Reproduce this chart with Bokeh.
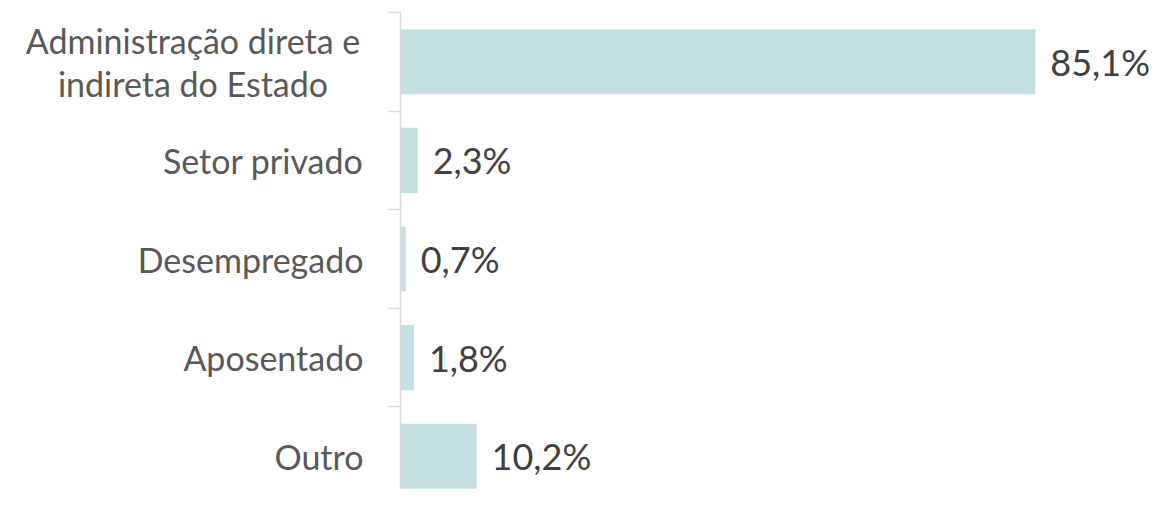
from bokeh.plotting import figure
from bokeh.models import ColumnDataSource, Range1d, FixedTicker, LinearAxis
from bokeh.layouts import row
from bokeh.core.properties import value
from bokeh.embed import file_html
from bokeh.resources import INLINE

categories = ["Administração direta e\nindireta do Estado", "Setor privado",
              "Desempregado", "Aposentado", "Outro"]
values = [85.1, 2.3, 0.7, 1.8, 10.2]

n = len(categories)
ypos = [n - i for i in range(n)]
labels = [f"{v:.1f}".replace(".", ",") + "%" for v in values]

src = ColumnDataSource(dict(y=ypos, v=values, lab=labels))

single = [i for i, c in enumerate(categories) if "\n" not in c]
multi = [i for i, c in enumerate(categories) if "\n" in c]
src_single = ColumnDataSource(dict(y=[ypos[i] for i in single], x=[1] * len(single),
                                   cat=[categories[i] for i in single]))
src_multi = ColumnDataSource(dict(y=[ypos[i] for i in multi], x=[1] * len(multi),
                                  cat=[categories[i] for i in multi]))

H, TOP = 489, 12
LABEL_W = 388          # width of the category-label panel
MAIN_W = 764           # bar panel incl. 12px border for the axis ticks
AXIS_BORDER = 12
px_per_unit_x = 7.46
px_per_band = 98.6

yr = Range1d(n + 0.5 - (H - TOP) / px_per_band, n + 0.5)

# ---- category label panel
lp = figure(width=LABEL_W, height=H, output_backend="svg", toolbar_location=None,
            x_range=Range1d(0, 1), y_range=yr,
            x_axis_location=None, y_axis_location=None,
            min_border_left=0, min_border_right=0, min_border_top=TOP, min_border_bottom=0)
lp.outline_line_color = None
lp.xgrid.visible = False
lp.ygrid.visible = False

common = dict(text_baseline="middle", text_font=value("Lato"), text_font_size="34px",
              text_color="#595959", text_line_height=1.05)
lp.text(x="x", y="y", text="cat", source=src_single, x_offset=-25,
        text_align="right", **common)
# two-line label: lines centred on each other, block right edge 37 px left of the axis
lp.text(x="x", y="y", text="cat", source=src_multi, x_offset=-(25 + 170.5),
        text_align="center", **common)

# ---- bar panel
p = figure(width=MAIN_W, height=H, output_backend="svg", toolbar_location=None,
           x_range=Range1d(0, (MAIN_W - AXIS_BORDER) / px_per_unit_x), y_range=yr,
           x_axis_location=None, y_axis_location=None,
           min_border_left=AXIS_BORDER, min_border_right=0, min_border_top=TOP,
           min_border_bottom=0)
p.outline_line_color = None
p.xgrid.visible = False
p.ygrid.visible = False

p.hbar(y="y", right="v", left=0, height=0.66, source=src,
       fill_color="#c2e0e2", line_color=None)

p.text(x="v", y="y", text="lab", source=src, x_offset=15,
       text_baseline="middle", text_align="left",
       text_font=value("Lato"), text_font_size="36px", text_color="#404040")

ax = LinearAxis(ticker=FixedTicker(ticks=[], minor_ticks=[k + 0.5 for k in range(n + 1)]))
ax.major_tick_out = 0
ax.major_tick_in = 0
ax.minor_tick_out = 12
ax.minor_tick_in = 0
ax.minor_tick_line_color = "#d9d9d9"
ax.minor_tick_line_width = 1.5
ax.axis_line_color = "#d9d9d9"
ax.axis_line_width = 1.5
ax.major_label_text_font_size = "0px"
p.add_layout(ax, "left")

layout = row(lp, p, spacing=0)
open("out.html", "w").write(file_html(layout, INLINE))
